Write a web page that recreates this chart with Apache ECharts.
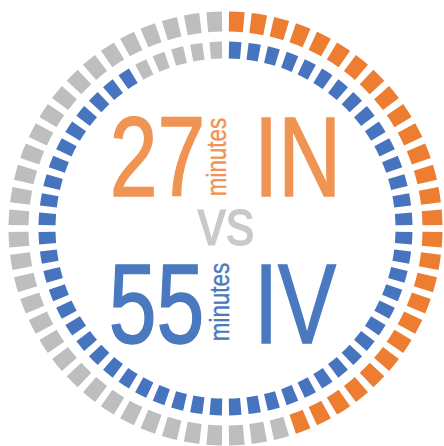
<!DOCTYPE html>
<html>
<head>
<meta charset="utf-8">
<script src="https://cdn.jsdelivr.net/npm/echarts@6/dist/echarts.min.js"></script>
<style>
html,body{margin:0;padding:0;background:#fff;}
#chart{width:444px;height:446px;}
</style>
</head>
<body>
<div id="chart"></div>
<script>
// ---- data ----
const totalMinutes = 60;
const categories = ['IN', 'IV'];
const minutesValues = [27, 55];
const unitLabel = 'minutes';
const middleLabel = 'vs';

// ---- styles ----
const segColors = ['#ED7D31', '#4674BE'];
const textColors = ['#F09454', '#4A79BF'];
const restColor = '#BDBEC0';
const FONT = '"Liberation Sans", Arial, sans-serif';

function segments(filled, color) {
  const out = [];
  for (let i = 0; i < totalMinutes; i++) {
    out.push({ value: 1, itemStyle: { color: i < filled ? color : restColor } });
  }
  return out;
}

const cx = 225.5, cy = 228.5;
function ringSeries(idx, radius, pad) {
  return {
    type: 'pie',
    center: [cx, cy],
    radius: radius,
    startAngle: 90,
    clockwise: true,
    padAngle: pad,
    silent: true,
    label: { show: false },
    labelLine: { show: false },
    emphasis: { disabled: true },
    itemStyle: { borderWidth: 0 },
    data: segments(minutesValues[idx], segColors[idx])
  };
}

function txt(text, x, y, size, color, sx, bold, extra) {
  const style = {
    text: text,
    font: size + 'px ' + FONT,
    fill: color,
    align: 'center', verticalAlign: 'middle',
    textAlign: 'center', textVerticalAlign: 'middle'
  };
  if (bold) { style.stroke = color; style.lineWidth = bold; }
  return Object.assign({
    type: 'text',
    x: x, y: y,
    scaleX: sx,
    silent: true,
    style: style
  }, extra || {});
}

const chart = echarts.init(document.getElementById('chart'), null, { renderer: 'svg' });
chart.setOption({
  animation: false,
  backgroundColor: '#ffffff',
  series: [
    ringSeries(0, [197, 217], 1.9),
    ringSeries(1, [170, 187], 2.2)
  ],
  graphic: [
    txt(String(minutesValues[0]), 157.5, 156.5, 113, textColors[0], 0.76, 1.6),
    txt(categories[0], 297.5, 156.5, 113, textColors[0], 0.77, 1.6),
    txt(unitLabel, 216.3, 157, 28, textColors[0], 0.8, 0.4, { rotation: Math.PI / 2 }),
    txt(middleLabel, 226, 221.8, 67, '#C9C9C9', 0.85, 1),
    txt(String(minutesValues[1]), 156.5, 303.5, 113, textColors[1], 0.76, 1.6),
    txt(categories[1], 295, 303.5, 113, textColors[1], 0.77, 1.6),
    txt(unitLabel, 219.3, 302, 28, textColors[1], 0.8, 0.4, { rotation: Math.PI / 2 })
  ]
});
</script>
</body>
</html>
